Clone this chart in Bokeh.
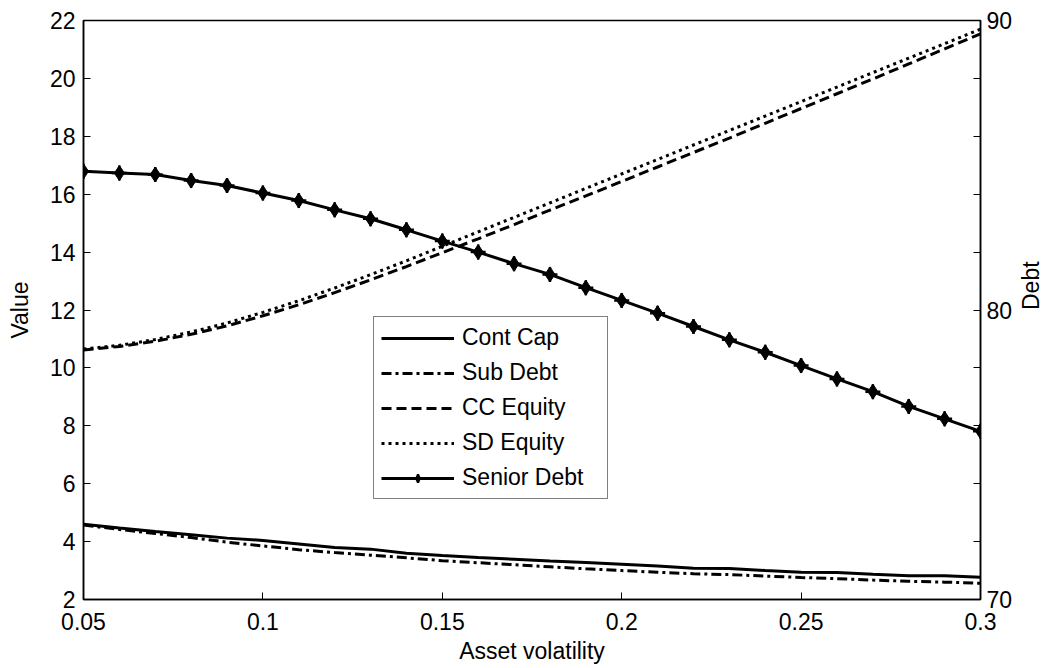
import math

from bokeh.plotting import figure
from bokeh.models import Range1d, LinearAxis, FixedTicker, Legend, LegendItem
from bokeh.embed import file_html
from bokeh.resources import INLINE

# Asset volatility grid
volatility = [0.05, 0.06, 0.07, 0.08, 0.09, 0.10, 0.11, 0.12, 0.13, 0.14,
              0.15, 0.16, 0.17, 0.18, 0.19, 0.20, 0.21, 0.22, 0.23, 0.24,
              0.25, 0.26, 0.27, 0.28, 0.29, 0.30]

# Left axis (Value)
cont_cap = [4.60, 4.47, 4.35, 4.24, 4.12, 4.04, 3.92, 3.80, 3.74, 3.60,
            3.52, 3.45, 3.39, 3.33, 3.28, 3.22, 3.16, 3.08, 3.07, 3.00,
            2.94, 2.93, 2.87, 2.82, 2.82, 2.77]
sub_debt = [4.57, 4.42, 4.28, 4.14, 3.98, 3.85, 3.72, 3.62, 3.53, 3.44,
            3.34, 3.27, 3.20, 3.13, 3.06, 3.00, 2.94, 2.89, 2.86, 2.81,
            2.76, 2.72, 2.67, 2.63, 2.60, 2.56]
cc_equity = [10.62, 10.74, 10.92, 11.16, 11.45, 11.80, 12.18, 12.60, 13.04, 13.50,
             13.98, 14.46, 14.95, 15.45, 15.94, 16.44, 16.94, 17.44, 17.94, 18.45,
             18.96, 19.47, 19.98, 20.50, 21.02, 21.54]
sd_equity = [10.65, 10.78, 10.98, 11.24, 11.55, 11.92, 12.32, 12.76, 13.22, 13.70,
             14.20, 14.70, 15.20, 15.70, 16.20, 16.70, 17.20, 17.70, 18.20, 18.70,
             19.20, 19.70, 20.20, 20.70, 21.20, 21.70]

# Right axis (Debt)
senior_debt = [84.79, 84.73, 84.68, 84.47, 84.30, 84.04, 83.78, 83.46, 83.15, 82.77,
               82.38, 82.00, 81.60, 81.23, 80.77, 80.33, 79.89, 79.43, 78.97, 78.54,
               78.08, 77.62, 77.18, 76.67, 76.24, 75.81]

x_ticks = [0.05, 0.1, 0.15, 0.2, 0.25, 0.3]
x_tick_labels = ["0.05", "0.1", "0.15", "0.2", "0.25", "0.3"]
value_ticks = [2, 4, 6, 8, 10, 12, 14, 16, 18, 20, 22]
debt_ticks = [70, 72, 74, 76, 78, 80, 82, 84, 86, 88, 90]
debt_labelled = [70, 80, 90]

FONT = "Liberation Sans"
FS = "23px"

p = figure(frame_width=897, frame_height=579,
           x_range=Range1d(0.05, 0.3), y_range=Range1d(2, 22),
           output_backend="svg", toolbar_location=None,
           min_border_left=83, min_border_right=64,
           min_border_top=20, min_border_bottom=69,
           background_fill_color="white", border_fill_color="white")
p.extra_y_ranges = {"debt": Range1d(70, 90)}

p.xgrid.visible = False
p.ygrid.visible = False
p.outline_line_color = "black"
p.outline_line_width = 1.5
p.outline_line_alpha = 1.0

right_axis = LinearAxis(y_range_name="debt")
p.add_layout(right_axis, "right")

p.xaxis.ticker = FixedTicker(ticks=x_ticks)
p.xaxis.major_label_overrides = {t: s for t, s in zip(x_ticks, x_tick_labels)}
p.xaxis.axis_label = "Asset volatility"
p.xaxis.major_label_standoff = 13
p.xaxis.axis_label_standoff = 5

p.yaxis[0].ticker = FixedTicker(ticks=value_ticks)
p.yaxis[0].axis_label = "Value"
p.yaxis[0].major_label_standoff = 8
p.yaxis[0].axis_label_standoff = 14

right_axis.ticker = FixedTicker(ticks=debt_ticks)
right_axis.major_label_overrides = {t: (str(t) if t in debt_labelled else "") for t in debt_ticks}
right_axis.major_label_standoff = 6
right_axis.axis_label = "Debt"
right_axis.axis_label_standoff = 16
# read the right-hand title bottom to top, like the left one
if "axis_label_orientation" in LinearAxis.properties():
    right_axis.axis_label_orientation = math.pi / 2

for ax in [p.xaxis[0], p.yaxis[0], right_axis]:
    ax.axis_line_color = "black"
    ax.axis_line_width = 1.5
    ax.major_tick_in = 7
    ax.major_tick_out = 0
    ax.major_tick_line_color = "black"
    ax.major_tick_line_width = 1
    ax.minor_tick_line_color = None
    ax.major_label_text_font = FONT
    ax.major_label_text_font_size = FS
    ax.major_label_text_color = "black"
    ax.axis_label_text_font = FONT
    ax.axis_label_text_font_size = FS
    ax.axis_label_text_font_style = "normal"
    ax.axis_label_text_color = "black"

r_cont = p.line(volatility, cont_cap, line_color="black", line_width=3)
r_sub = p.line(volatility, sub_debt, line_color="black", line_width=3,
               line_dash="10 4 3 4")
r_cce = p.line(volatility, cc_equity, line_color="black", line_width=3,
               line_dash="10 5")
r_sde = p.line(volatility, sd_equity, line_color="black", line_width=3,
               line_dash="3 4")
r_sen = p.line(volatility, senior_debt, y_range_name="debt",
               line_color="black", line_width=3)
r_dia = p.scatter(volatility, senior_debt, y_range_name="debt", marker="diamond",
                  size=15, fill_color="black", line_color="black")
r_crs = p.scatter(volatility, senior_debt, y_range_name="debt", marker="cross",
                  size=15, line_color="black", line_width=2.5)

legend = Legend(items=[
    LegendItem(label="Cont Cap", renderers=[r_cont]),
    LegendItem(label="Sub Debt", renderers=[r_sub]),
    LegendItem(label="CC Equity", renderers=[r_cce]),
    LegendItem(label="SD Equity", renderers=[r_sde]),
    LegendItem(label="Senior Debt", renderers=[r_sen, r_dia, r_crs]),
], location=(290, 100))
legend.glyph_width = 73
legend.glyph_height = 22
legend.label_height = 22
legend.spacing = 8
legend.padding = 7
legend.margin = 0
legend.label_standoff = 8
legend.label_width = 138
legend.label_text_font = FONT
legend.label_text_font_size = FS
legend.label_text_color = "black"
legend.border_line_color = "black"
legend.border_line_width = 1
legend.background_fill_color = "white"
legend.background_fill_alpha = 1.0
p.add_layout(legend)

open("out.html", "w").write(file_html(p, INLINE))
